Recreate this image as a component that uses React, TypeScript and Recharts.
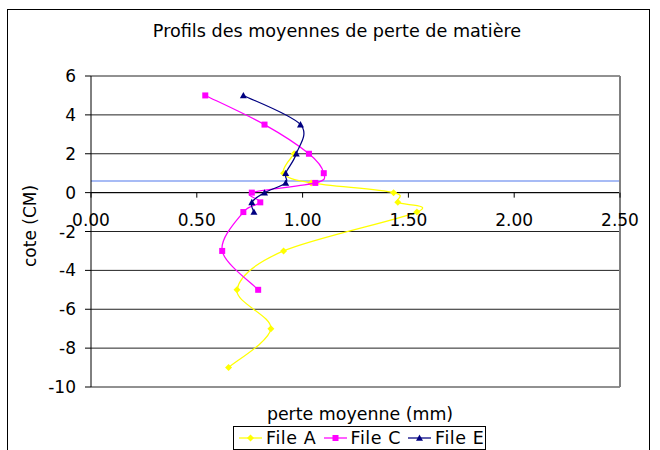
import React from 'react';
import {
  ScatterChart,
  Scatter,
  XAxis,
  YAxis,
  CartesianGrid,
  ReferenceLine
} from 'recharts';

// depth (cm) of each measurement, top to bottom
const depthsA = [2, 1, 0.5, 0, -0.5, -1, -3, -5, -7, -9];
const lossA = [0.96, 0.91, 1.04, 1.43, 1.45, 1.54, 0.91, 0.69, 0.85, 0.65];

const depthsC = [5, 3.5, 2, 1, 0.5, 0, -0.5, -1, -3, -5];
const lossC = [0.54, 0.82, 1.03, 1.1, 1.06, 0.76, 0.8, 0.72, 0.62, 0.79];

const depthsE = [5, 3.5, 2, 1, 0.5, 0, -0.5, -1];
const lossE = [0.72, 0.99, 0.97, 0.92, 0.92, 0.82, 0.76, 0.77];

const xTicks = [0, 0.5, 1, 1.5, 2, 2.5];
const yTicks = [6, 4, 2, 0, -2, -4, -6, -8, -10];
const markerLevel = 0.6;

const FONT = '"DejaVu Sans", Verdana, sans-serif';
const W = 660;
const H = 450;
const MARGIN = { top: 76, right: 40, bottom: 33, left: 31 };
const X_AXIS_H = 30;
const PLOT_H = H - MARGIN.top - MARGIN.bottom - X_AXIS_H;
const Y_MIN = -10;
const Y_MAX = 6;
// distance from the bottom of the plot up to the y=0 line
const ZERO_SHIFT = (PLOT_H * (0 - Y_MIN)) / (Y_MAX - Y_MIN);

const toPoints = (xs: number[], ys: number[]) => xs.map((x, i) => ({ x, y: ys[i] }));

// Excel-like smoothed line (Catmull-Rom through each point)
const smoothCurve = (context: any) => {
  let pts: [number, number][] = [];
  return {
    areaStart() {},
    areaEnd() {},
    lineStart() {
      pts = [];
    },
    point(x: number, y: number) {
      pts.push([+x, +y]);
    },
    lineEnd() {
      if (!pts.length) return;
      context.moveTo(pts[0][0], pts[0][1]);
      for (let i = 0; i < pts.length - 1; i++) {
        const p0 = pts[i - 1] || pts[i];
        const p1 = pts[i];
        const p2 = pts[i + 1];
        const p3 = pts[i + 2] || p2;
        context.bezierCurveTo(
          p1[0] + (p2[0] - p0[0]) / 6,
          p1[1] + (p2[1] - p0[1]) / 6,
          p2[0] - (p3[0] - p1[0]) / 6,
          p2[1] - (p3[1] - p1[1]) / 6,
          p2[0],
          p2[1]
        );
      }
    }
  };
};

type MarkerKind = 'diamond' | 'square' | 'triangle';

const Marker = ({ kind, cx, cy, color }: { kind: MarkerKind; cx: number; cy: number; color: string }) => {
  if (kind === 'diamond') {
    return <path d={`M${cx},${cy - 3.5}L${cx + 3.5},${cy}L${cx},${cy + 3.5}L${cx - 3.5},${cy}Z`} fill={color} />;
  }
  if (kind === 'square') {
    return <rect x={cx - 3} y={cy - 3} width={6} height={6} fill={color} />;
  }
  return <path d={`M${cx},${cy - 3.5}L${cx + 3.5},${cy + 2.8}L${cx - 3.5},${cy + 2.8}Z`} fill={color} />;
};

const series = [
  { name: 'File A', color: '#FFFF00', kind: 'diamond' as MarkerKind, data: toPoints(lossA, depthsA) },
  { name: 'File C', color: '#FF00FF', kind: 'square' as MarkerKind, data: toPoints(lossC, depthsC) },
  { name: 'File E', color: '#000080', kind: 'triangle' as MarkerKind, data: toPoints(lossE, depthsE) }
];

const XTick = (props: any) => {
  const { x, y, payload } = props;
  const zy = y - ZERO_SHIFT;
  return (
    <g>
      <line x1={x} x2={x} y1={zy} y2={zy + 5} stroke="#000" />
      <text x={x} y={zy + 33} textAnchor="middle" fontFamily={FONT} fontSize={17} fill="#000">
        {Number(payload.value).toFixed(2)}
      </text>
    </g>
  );
};

const App = () => {
  return (
    <div style={{ position: 'fixed', left: 0, top: 0, width: W, height: H, overflow: 'hidden', background: '#fff' }}>
      <div style={{ position: 'absolute', left: 7, top: 9, width: 643, height: 470, border: '1px solid #000', boxSizing: 'border-box' }} />
      <div style={{ position: 'absolute', left: 0, top: 0 }}>
        <ScatterChart width={W} height={H} margin={MARGIN}>
          <CartesianGrid horizontal vertical={false} stroke="#222" />
          <XAxis
            type="number"
            dataKey="x"
            domain={[0, 2.5]}
            ticks={xTicks}
            axisLine={false}
            tickLine={false}
            tickSize={0}
            tickMargin={0}
            height={X_AXIS_H}
            tick={<XTick />}
            interval={0}
          />
          <YAxis
            type="number"
            dataKey="y"
            domain={[Y_MIN, Y_MAX]}
            ticks={yTicks}
            interval={0}
            width={60}
            axisLine={{ stroke: '#000' }}
            tickLine={{ stroke: '#000' }}
            tickSize={6}
            tickMargin={9}
            tick={{ fontFamily: FONT, fontSize: 17, fill: '#000' }}
          />
          <ReferenceLine y={markerLevel} stroke="#8AA4F2" strokeWidth={1.5} />
          <ReferenceLine y={0} stroke="#000" />
          <ReferenceLine x={2.5} stroke="#808080" strokeWidth={2} />
          {series.map((s) => (
            <Scatter
              key={s.name}
              name={s.name}
              data={s.data}
              fill={s.color}
              line={{ stroke: s.color, strokeWidth: 1.25 }}
              lineType="joint"
              lineJointType={smoothCurve as any}
              shape={(p: any) => <Marker kind={s.kind} cx={p.cx} cy={p.cy} color={s.color} />}
              isAnimationActive={false}
            />
          ))}
        </ScatterChart>
      </div>
      <svg width={W} height={H} style={{ position: 'absolute', left: 0, top: 0, pointerEvents: 'none' }}>
        <text x={337} y={37} textAnchor="middle" fontFamily={FONT} fontSize={17.6} fill="#000">
          Profils des moyennes de perte de matière
        </text>
        <text x={360} y={420} textAnchor="middle" fontFamily={FONT} fontSize={17.4} fill="#000">
          perte moyenne (mm)
        </text>
        <text
          x={30}
          y={226}
          textAnchor="middle"
          dominantBaseline="central"
          transform="rotate(-90 30 226)"
          fontFamily={FONT}
          fontSize={17}
          fill="#000"
        >
          cote (CM)
        </text>
      </svg>
      <div
        style={{
          position: 'absolute',
          left: 233,
          top: 426,
          width: 253,
          height: 24,
          border: '1px solid #000',
          boxSizing: 'border-box',
          display: 'flex',
          alignItems: 'center',
          paddingLeft: 5,
          fontFamily: FONT,
          fontSize: 17.5,
          background: '#fff'
        }}
      >
        {series.map((s) => (
          <div key={s.name} style={{ display: 'flex', alignItems: 'center', width: 84.5, flexShrink: 0 }}>
            <svg width={23} height={12} style={{ marginRight: 4 }}>
              <line x1={0} x2={23} y1={6} y2={6} stroke={s.color} strokeWidth={1.25} />
              <Marker kind={s.kind} cx={11.5} cy={6} color={s.color} />
            </svg>
            <span style={{ lineHeight: '20px', letterSpacing: '0.6px', whiteSpace: 'nowrap' }}>{s.name}</span>
          </div>
        ))}
      </div>
    </div>
  );
};

export default App;
